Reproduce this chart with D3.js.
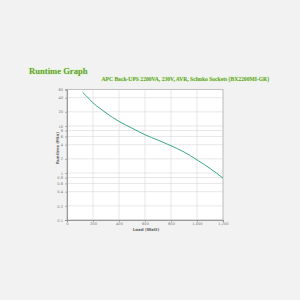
<!DOCTYPE html>
<html>
<head>
<meta charset="utf-8">
<script src="https://cdn.jsdelivr.net/npm/d3@7"></script>
<style>
  html, body { margin: 0; padding: 0; background: #f2f2f2; }
  svg { display: block; }
</style>
</head>
<body>
<div id="chart"></div>
<script>
// Runtime data
var loadWatts = [120, 150, 200, 250, 300, 400, 500, 600, 700, 800, 900, 1000, 1100, 1200];
var runtimeMin = [52, 43, 31, 24, 19, 12.5, 9, 6.5, 5, 3.8, 2.8, 1.9, 1.25, 0.78];
var xTicks = [0, 200, 400, 600, 800, 1000, 1200];
var yTicks = [0.1, 0.2, 0.4, 0.6, 0.8, 1, 2, 4, 6, 8, 10, 20, 40, 60];

var svg = d3.select('#chart')
    .append('svg')
    .attr('width', 300)
    .attr('height', 300);

// Titles
svg.append('text')
    .attr('x', 29)
    .attr('y', 74)
    .style('font-family', 'Liberation Serif, serif')
    .style('font-weight', 700)
    .style('font-size', '8.6px')
    .style('fill', '#5f9e2f')
    .style('paint-order', 'stroke')
    .style('stroke', '#e4f5d4')
    .style('stroke-width', 1.5)
    .text('Runtime Graph');

svg.append('text')
    .attr('x', 269)
    .attr('y', 81)
    .attr('text-anchor', 'end')
    .style('font-family', 'Liberation Serif, serif')
    .style('font-weight', 700)
    .style('font-size', '5.6px')
    .style('fill', '#5f9e2f')
    .style('paint-order', 'stroke')
    .style('stroke', '#e4f5d4')
    .style('stroke-width', 1)
    .text('APC Back-UPS 2200VA, 230V, AVR, Schuko Sockets (BX2200MI-GR)');

var margin = {left: 67, top: 89.4, right: 223, bottom: 220};

var x = d3.scaleLinear()
    .domain([0, 1200])
    .range([margin.left, margin.right]);

var y = d3.scaleLog()
    .domain([0.1, 60])
    .range([margin.bottom, margin.top]);

//Plot background
svg.append('rect')
    .attr('x', margin.left)
    .attr('y', margin.top)
    .attr('width', margin.right - margin.left)
    .attr('height', margin.bottom - margin.top)
    .style('fill', '#fff');

//Gridlines
svg.selectAll('.hgrid')
    .data(yTicks)
    .enter()
    .append('line')
    .attr('x1', margin.left)
    .attr('x2', margin.right)
    .attr('y1', function(d){ return y(d); })
    .attr('y2', function(d){ return y(d); })
    .style('stroke', '#dcdcdc')
    .style('stroke-width', 0.7);

svg.selectAll('.vgrid')
    .data(xTicks)
    .enter()
    .append('line')
    .attr('x1', function(d){ return x(d); })
    .attr('x2', function(d){ return x(d); })
    .attr('y1', margin.top)
    .attr('y2', margin.bottom)
    .style('stroke', '#dcdcdc')
    .style('stroke-width', 0.7);

//Frame
svg.append('rect')
    .attr('x', margin.left)
    .attr('y', margin.top)
    .attr('width', margin.right - margin.left)
    .attr('height', margin.bottom - margin.top)
    .style('fill', 'none')
    .style('stroke', '#b8b8b8')
    .style('stroke-width', 0.8);

//Axes
var xAxis = svg.append('g')
    .attr('transform', 'translate(0,' + margin.bottom + ')')
    .call(d3.axisBottom(x)
        .tickValues(xTicks)
        .tickSize(2)
        .tickFormat(d3.format(',')));

var yAxis = svg.append('g')
    .attr('transform', 'translate(' + margin.left + ',0)')
    .call(d3.axisLeft(y)
        .tickValues(yTicks)
        .tickSize(2)
        .tickFormat(function(d){ return d; }));

[xAxis, yAxis].forEach(function(g){
    g.select('.domain').style('stroke', '#888').style('stroke-width', 0.8);
    g.selectAll('.tick line').style('stroke', '#888').style('stroke-width', 0.6);
    g.selectAll('.tick text')
        .style('font-family', 'DejaVu Sans, sans-serif')
        .style('font-size', '3.6px')
        .style('fill', '#777');
});
xAxis.selectAll('.tick text').attr('y', 2.5).attr('dy', '0.71em');
yAxis.selectAll('.tick text').attr('x', -4);

//Axis titles
svg.append('text')
    .attr('x', 146)
    .attr('y', 231)
    .attr('text-anchor', 'middle')
    .style('font-family', 'DejaVu Sans, sans-serif')
    .style('font-weight', 700)
    .style('font-size', '4px')
    .style('fill', '#666')
    .text('Load (Watt)');

svg.append('text')
    .attr('transform', 'translate(59,148) rotate(-90)')
    .attr('text-anchor', 'middle')
    .style('font-family', 'DejaVu Sans, sans-serif')
    .style('font-weight', 700)
    .style('font-size', '4px')
    .style('fill', '#666')
    .text('Runtime (Min)');

//Runtime curve
var line = d3.line()
    .x(function(d, i){ return x(loadWatts[i]); })
    .y(function(d){ return y(d); })
    .curve(d3.curveMonotoneX);

svg.append('path')
    .datum(runtimeMin)
    .attr('d', line)
    .style('fill', 'none')
    .style('stroke', '#3aa889')
    .style('stroke-width', 1);
</script>
</body>
</html>
